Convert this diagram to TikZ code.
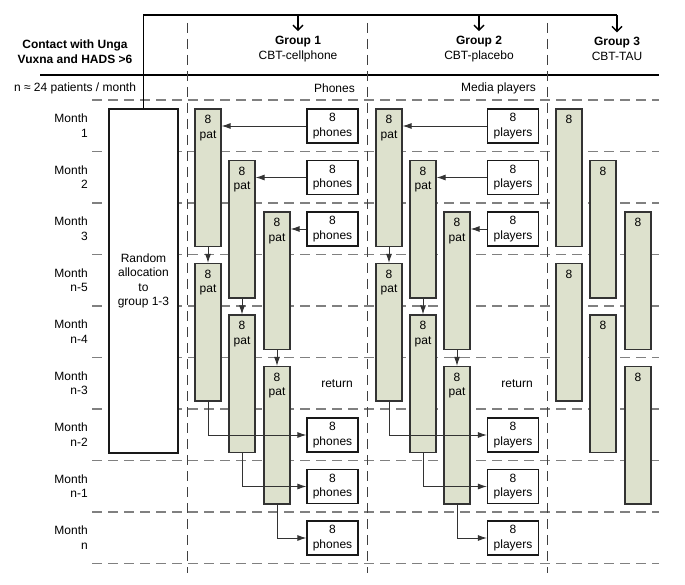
\documentclass[tikz,border=0pt]{standalone}
\usepackage{fontspec}
\setmainfont{Liberation Sans}
\usetikzlibrary{arrows.meta}
\definecolor{barfill}{RGB}{221,225,205}
\definecolor{gridgrey}{RGB}{128,128,128}

\begin{document}
\begin{tikzpicture}[x=1pt,y=-1pt,
  font=\fontsize{12}{14.5}\selectfont,
  grid/.style={gridgrey,line width=1.4pt,dash pattern=on 10pt off 6pt},
  colline/.style={black!75,line width=1pt,dash pattern=on 10pt off 6pt},
  bar/.style={draw=black!80,fill=barfill,line width=1.2pt,minimum width=26pt,minimum height=137.5pt,inner sep=0pt},
  bartext/.style={anchor=north,inner sep=0pt,yshift=-7pt,align=center,font=\fontsize{12}{14.5}\selectfont},
  devbox/.style={draw=black!90,fill=white,line width=1.2pt,minimum width=51pt,minimum height=34pt,inner sep=0pt,align=center},
  monthtext/.style={anchor=east,align=right,inner sep=0pt},
  flow/.style={black!80,line width=0.9pt,-{Latex[length=9pt,width=6pt]}},
  topline/.style={line width=1.4pt},
  toparrow/.style={line width=1.4pt,-{Straight Barb[length=5pt,width=10pt]}}
]
\useasboundingbox (0,0) rectangle (685,585);

% grid
\draw[topline] (40,75) -- (659,75) ; % header rule
\draw[grid] (92,100) -- (659,100) ;
\draw[grid] (92,151.5) -- (659,151.5) ;
\draw[grid] (92,203) -- (659,203) ;
\draw[grid] (92,254.5) -- (659,254.5) ;
\draw[grid] (92,306) -- (659,306) ;
\draw[grid] (92,357.5) -- (659,357.5) ;
\draw[grid] (92,409) -- (659,409) ;
\draw[grid] (92,460.5) -- (659,460.5) ;
\draw[grid] (92,512) -- (659,512) ;
\draw[grid] (92,563.5) -- (659,563.5) ;
\draw[colline] (187.5,23) -- (187.5,573) ;
\draw[colline] (367.5,23) -- (367.5,573) ;
\draw[colline] (547.5,23) -- (547.5,573) ;

% header
\node[align=center,font=\fontsize{12}{14.5}\selectfont\bfseries] (contact) at (75,51.5) {Contact with Unga\\Vuxna and HADS >6};
\node (npat) at (75,88) {n ≈ 24 patients / month};
\node[align=center,inner sep=0pt] (g1) at (298,49) {\textbf{Group 1}\\CBT-cellphone};
\node[align=center,inner sep=0pt] (g2) at (479,49) {\textbf{Group 2}\\CBT-placebo};
\node[align=center,inner sep=0pt] (g3) at (617,49) {\textbf{Group 3}\\CBT-TAU};
\node[anchor=east,inner sep=0pt] (phones) at (355,88) {Phones};
\node[anchor=east,inner sep=0pt] (players) at (536,88) {Media players};
\coordinate (top) at (143.5,15);

% months
\node[monthtext] (m1) at (88,125.75) {Month\\1};
\node[monthtext] (m2) at (88,177.25) {Month\\2};
\node[monthtext] (m3) at (88,228.75) {Month\\3};
\node[monthtext] (m4) at (88,280.25) {Month\\n-5};
\node[monthtext] (m5) at (88,331.75) {Month\\n-4};
\node[monthtext] (m6) at (88,383.25) {Month\\n-3};
\node[monthtext] (m7) at (88,434.75) {Month\\n-2};
\node[monthtext] (m8) at (88,486.25) {Month\\n-1};
\node[monthtext] (m9) at (88,537.75) {Month\\n};

\node[draw=black!90,fill=white,line width=1.2pt,minimum width=69pt,minimum height=344pt,inner sep=0pt,align=center] (alloc) at (143.5,281) {Random\\allocation\\to\\group 1-3};

% group 1
\node[bar,label={[bartext]north:{8\\pat}}] (g1a1) at (208,177.75) {};
\node[bar,label={[bartext]north:{8\\pat}}] (g1a2) at (208,332.25) {};
\node[bar,label={[bartext]north:{8\\pat}}] (g1b1) at (242,229.25) {};
\node[bar,label={[bartext]north:{8\\pat}}] (g1b2) at (242,383.75) {};
\node[bar,label={[bartext]north:{8\\pat}}] (g1c1) at (277,280.75) {};
\node[bar,label={[bartext]north:{8\\pat}}] (g1c2) at (277,435.25) {};
\node[devbox] (ph1) at (332.5,126) {8\\phones};
\node[devbox] (ph2) at (332.5,177.5) {8\\phones};
\node[devbox] (ph3) at (332.5,229) {8\\phones};
\node[devbox] (ph7) at (332.5,435) {8\\phones};
\node[devbox] (ph8) at (332.5,486.5) {8\\phones};
\node[devbox] (ph9) at (332.5,538) {8\\phones};
\node (ret1) at (337,384) {return};

% group 2
\node[bar,label={[bartext]north:{8\\pat}}] (g2a1) at (389,177.75) {};
\node[bar,label={[bartext]north:{8\\pat}}] (g2a2) at (389,332.25) {};
\node[bar,label={[bartext]north:{8\\pat}}] (g2b1) at (423,229.25) {};
\node[bar,label={[bartext]north:{8\\pat}}] (g2b2) at (423,383.75) {};
\node[bar,label={[bartext]north:{8\\pat}}] (g2c1) at (457,280.75) {};
\node[bar,label={[bartext]north:{8\\pat}}] (g2c2) at (457,435.25) {};
\node[devbox] (pl1) at (513,126) {8\\players};
\node[devbox] (pl2) at (513,177.5) {8\\players};
\node[devbox] (pl3) at (513,229) {8\\players};
\node[devbox] (pl7) at (513,435) {8\\players};
\node[devbox] (pl8) at (513,486.5) {8\\players};
\node[devbox] (pl9) at (513,538) {8\\players};
\node (ret2) at (517,384) {return};

% group 3
\node[bar,label={[bartext]north:{8}}] (g3a1) at (569,177.75) {};
\node[bar,label={[bartext]north:{8}}] (g3a2) at (569,332.25) {};
\node[bar,label={[bartext]north:{8}}] (g3b1) at (603,229.25) {};
\node[bar,label={[bartext]north:{8}}] (g3b2) at (603,383.75) {};
\node[bar,label={[bartext]north:{8}}] (g3c1) at (638,280.75) {};
\node[bar,label={[bartext]north:{8}}] (g3c2) at (638,435.25) {};

% allocation
\draw[topline] (alloc.north) -- (top) -- (top -| g3.north) ;
\draw[toparrow] (top -| g1.north) -- ([yshift=5pt]g1.north) ;
\draw[toparrow] (top -| g2.north) -- ([yshift=5pt]g2.north) ;
\draw[toparrow] (top -| g3.north) -- ([yshift=5pt]g3.north) ;

% phones out
\draw[flow] (ph1.west) -- (ph1.west -| g1a1.east) ;
\draw[flow] (ph2.west) -- (ph2.west -| g1b1.east) ;
\draw[flow] (ph3.west) -- (ph3.west -| g1c1.east) ;
\draw[flow] (g1a1.south) -- (g1a2.north) ;
\draw[flow] (g1b1.south) -- (g1b2.north) ;
\draw[flow] (g1c1.south) -- (g1c2.north) ;
\draw[flow] (g1a2.south) |- (ph7.west) ;
\draw[flow] (g1b2.south) |- (ph8.west) ;
\draw[flow] (g1c2.south) |- (ph9.west) ;

% players out
\draw[flow] (pl1.west) -- (pl1.west -| g2a1.east) ;
\draw[flow] (pl2.west) -- (pl2.west -| g2b1.east) ;
\draw[flow] (pl3.west) -- (pl3.west -| g2c1.east) ;
\draw[flow] (g2a1.south) -- (g2a2.north) ;
\draw[flow] (g2b1.south) -- (g2b2.north) ;
\draw[flow] (g2c1.south) -- (g2c2.north) ;
\draw[flow] (g2a2.south) |- (pl7.west) ;
\draw[flow] (g2b2.south) |- (pl8.west) ;
\draw[flow] (g2c2.south) |- (pl9.west) ;
\end{tikzpicture}
\end{document}
